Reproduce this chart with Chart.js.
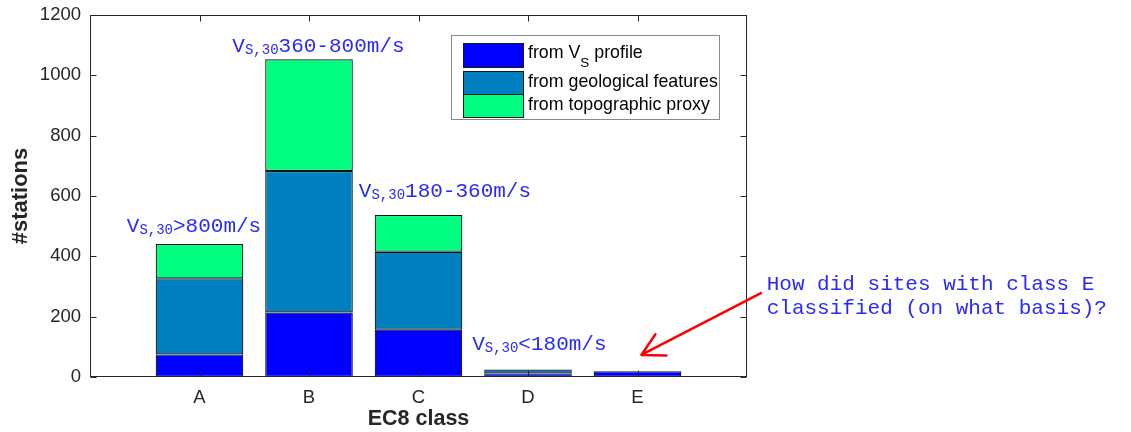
<!DOCTYPE html>
<html>
<head>
<meta charset="utf-8">
<script src="https://cdn.jsdelivr.net/npm/chart.js@4.4.1/dist/chart.umd.min.js"></script>
<style>
  html, body { margin: 0; padding: 0; background: #fff; }
</style>
</head>
<body>
<canvas id="c" width="1131" height="432"></canvas>
<script>
// ---------- Data ----------
const classes = ["A", "B", "C", "D", "E"];
const fromVsProfile = [75, 214, 157, 12, 19];
const fromGeology = [252, 469, 258, 13, 0];
const fromTopography = [114, 370, 122, 0, 0];
const yTicks = [0, 200, 400, 600, 800, 1000, 1200];
const seriesNames = ["from V_S profile", "from geological features", "from topographic proxy"];
const seriesColors = ["#0000ff", "#0080bf", "#00ff80"];
const rangeTexts = [">800m/s", "360-800m/s", "180-360m/s", "<180m/s"];
const question = ["How did sites with class E", "classified (on what basis)?"];

// ---------- Style ----------
const AXIS = "#262626";
const MONO = '"Courier New", "Liberation Mono", monospace';
const SANS = '"Liberation Sans", Arial, Helvetica, sans-serif';
const NOTE = "#2929ff";

// one empty slot each side, like the matlab axis (0..6)
const labels = ["", ...classes, ""];
const pad = arr => [null, ...arr, null];

// where the notes sit, in axis units (category index, count)
const notePos = [[0.336, 481], [1.3, 1077], [2.455, 597], [3.49, 89]];
const questionPos = [6.18, 288];
const arrowFrom = [6.127, 278], arrowTo = [5.036, 73];

// ---------- Helpers ----------
function vsNote(ctx, x, y, rest) {
    ctx.font = `21px ${MONO}`;
    ctx.fillText("V", x, y);
    x += ctx.measureText("V").width;
    ctx.font = `14px ${MONO}`;
    ctx.fillText("S,30", x, y + 2);
    x += ctx.measureText("S,30").width;
    ctx.font = `21px ${MONO}`;
    ctx.fillText(rest, x, y);
}

const overlay = {
    id: "overlay",
    afterDatasetsDraw(chart) {
        const { ctx, chartArea: a, scales: { x, y } } = chart;
        ctx.save();

        // box + inward ticks
        const L = Math.round(a.left) + 0.5, R = Math.round(a.right) - 0.5;
        const T = Math.round(a.top) + 0.5, B = Math.round(a.bottom) - 0.5;
        ctx.strokeStyle = AXIS; ctx.lineWidth = 1;
        ctx.strokeRect(L, T, R - L, B - T);
        ctx.beginPath();
        yTicks.forEach(v => {
            const py = Math.round(y.getPixelForValue(v)) + 0.5;
            ctx.moveTo(L, py); ctx.lineTo(L + 6, py);
            ctx.moveTo(R, py); ctx.lineTo(R - 6, py);
        });
        classes.forEach((c, i) => {
            const px = Math.round(x.getPixelForValue(i + 1)) + 0.5;
            ctx.moveTo(px, B); ctx.lineTo(px, B - 6);
            ctx.moveTo(px, T); ctx.lineTo(px, T + 6);
        });
        ctx.stroke();

        // legend
        const lx = Math.round(a.right) - 296, ly = Math.round(a.top) + 20;
        ctx.fillStyle = "#fff";
        ctx.fillRect(lx, ly, 268, 84);
        ctx.strokeStyle = "#8a8a8a";
        ctx.strokeRect(lx + 0.5, ly + 0.5, 268, 84);
        const rows = [[8, 24, 23], [36, 23, 52], [59, 23, 75]];
        rows.forEach(([oy, h, base], i) => {
            ctx.fillStyle = seriesColors[i];
            ctx.fillRect(lx + 12, ly + oy, 60, h);
            ctx.strokeStyle = "#1a1a1a";
            ctx.strokeRect(lx + 12.5, ly + oy + 0.5, 60, h);
            ctx.fillStyle = "#000";
            ctx.textBaseline = "alphabetic";
            let tx = lx + 77;
            const name = seriesNames[i];
            if (name.includes("_")) {
                const [pre, post] = name.split("_");
                ctx.font = `17.8px ${SANS}`;
                ctx.fillText(pre, tx, ly + base);
                tx += ctx.measureText(pre).width;
                ctx.font = `13.5px ${SANS}`;
                ctx.fillText(post[0], tx, ly + base + 9);
                tx += ctx.measureText(post[0]).width;
                ctx.font = `17.8px ${SANS}`;
                ctx.fillText(post.slice(1), tx, ly + base);
            } else {
                ctx.font = `17.8px ${SANS}`;
                ctx.fillText(name, tx, ly + base);
            }
        });

        // V_S,30 range notes
        ctx.fillStyle = NOTE;
        ctx.textBaseline = "alphabetic";
        rangeTexts.forEach((t, i) => {
            vsNote(ctx, x.getPixelForValue(notePos[i][0]), y.getPixelForValue(notePos[i][1]), t);
        });

        // question + arrow
        ctx.font = `21px ${MONO}`;
        const qx = x.getPixelForValue(questionPos[0]), qy = y.getPixelForValue(questionPos[1]);
        question.forEach((q, i) => ctx.fillText(q, qx, qy + i * 24));

        const x0 = x.getPixelForValue(arrowFrom[0]), y0 = y.getPixelForValue(arrowFrom[1]);
        const x1 = x.getPixelForValue(arrowTo[0]), y1 = y.getPixelForValue(arrowTo[1]);
        const ang = Math.atan2(y0 - y1, x0 - x1);
        ctx.strokeStyle = "#ff0000"; ctx.lineWidth = 2.5; ctx.lineCap = "round";
        ctx.beginPath();
        ctx.moveTo(x0, y0); ctx.lineTo(x1, y1);
        [-0.5, 0.5].forEach(d => {
            ctx.moveTo(x1, y1);
            ctx.lineTo(x1 + 25 * Math.cos(ang + d), y1 + 25 * Math.sin(ang + d));
        });
        ctx.stroke();

        ctx.restore();
    }
};

// ---------- Chart ----------
const mkSet = (name, vals, i) => ({
    label: name, data: pad(vals),
    backgroundColor: seriesColors[i], borderColor: "#111", borderWidth: 1.2,
    borderSkipped: false,
    barPercentage: 0.8, categoryPercentage: 1
});

new Chart(document.getElementById("c"), {
    type: "bar",
    data: {
        labels,
        datasets: [
            mkSet(seriesNames[0], fromVsProfile, 0),
            mkSet(seriesNames[1], fromGeology, 1),
            mkSet(seriesNames[2], fromTopography, 2),
        ]
    },
    options: {
        responsive: false,
        animation: false,
        layout: { padding: { left: 0, top: 15, right: 384, bottom: 0 } },
        plugins: { legend: { display: false }, tooltip: { enabled: false } },
        scales: {
            x: {
                stacked: true, offset: false,
                grid: { display: false, drawTicks: false },
                border: { display: false },
                ticks: { color: AXIS, font: { family: SANS, size: 18.5 }, padding: 10, maxRotation: 0 },
                title: { display: true, text: "EC8 class", color: AXIS, font: { family: SANS, size: 21.5, weight: "bold" }, padding: { top: 0, bottom: 0 } },
                afterFit: s => { s.height = 55; s.paddingLeft = 0; s.paddingRight = 0; }
            },
            y: {
                stacked: true, min: 0, max: 1200,
                grid: { display: false, drawTicks: false },
                border: { display: false },
                ticks: { stepSize: 200, color: AXIS, font: { family: SANS, size: 18.5 }, padding: 9,
                         callback: v => String(v) },
                title: { display: true, text: "#stations", color: AXIS, font: { family: SANS, size: 22, weight: "bold" }, padding: { top: 8, bottom: 0 } },
                afterFit: s => { s.width = 90; s.paddingTop = 0; s.paddingBottom = 0; }
            }
        }
    },
    plugins: [overlay]
});
</script>
</body>
</html>
